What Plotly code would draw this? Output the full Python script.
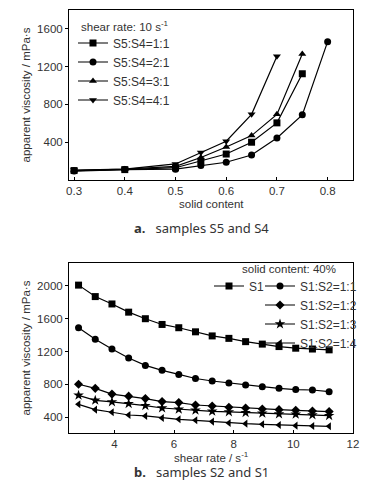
import plotly.graph_objects as go

# ---------------- data: chart a ----------------
solid_content = [0.3, 0.4, 0.5, 0.55, 0.6, 0.65, 0.7, 0.75, 0.8]
visc_11 = [100, 110, 130, 200, 275, 400, 605, 1125]
visc_21 = [95, 110, 115, 153, 188, 265, 445, 690, 1465]
visc_31 = [100, 115, 145, 238, 350, 470, 695, 1335]
visc_41 = [105, 115, 170, 290, 410, 695, 1310]
names_a = ["S5:S4=1:1", "S5:S4=2:1", "S5:S4=3:1", "S5:S4=4:1"]
symbols_a = ["square", "circle", "triangle-up", "triangle-down"]

# ---------------- data: chart b ----------------
shear_rate = [2.8, 3.36, 3.92, 4.48, 5.04, 5.6, 6.16, 6.72, 7.28, 7.84,
              8.4, 8.96, 9.52, 10.08, 10.64, 11.2]
visc_S1 = [2010, 1870, 1780, 1680, 1600, 1530, 1490, 1440, 1390, 1360,
           1320, 1290, 1260, 1240, 1230, 1220]
visc_12_11 = [1490, 1350, 1230, 1120, 1030, 970, 920, 870, 840, 815,
              790, 770, 750, 735, 730, 710]
visc_12_12 = [800, 750, 680, 655, 625, 588, 576, 547, 535, 519,
              511, 498, 490, 482, 474, 466]
visc_12_13 = [665, 604, 584, 563, 539, 510, 494, 482, 470, 462,
              453, 445, 437, 433, 425, 417]
visc_12_14 = [555, 490, 458, 425, 413, 388, 372, 360, 344, 327,
              319, 311, 303, 295, 291, 287]
names_b = ["S1", "S1:S2=1:1", "S1:S2=1:2", "S1:S2=1:3", "S1:S2=1:4"]
symbols_b = ["square", "circle", "diamond", "star", "triangle-left"]

W, H = 367, 491
def py(px):
    return 1 - px / H
def pxx(px):
    return px / W

FONT = "Liberation Sans, Arial"
TXT = "#333333"
f = dict(family=FONT, size=11.5, color=TXT)
fl = dict(family=FONT, size=12, color=TXT)

fig = go.Figure()

series_a = [visc_11, visc_21, visc_31, visc_41]
for name, sym, vals in zip(names_a, symbols_a, series_a):
    fig.add_trace(go.Scatter(
        x=solid_content[:len(vals)], y=vals, name=name, mode="lines+markers",
        line=dict(color="black", width=1.2),
        marker=dict(symbol=sym, size=7, color="black"),
        xaxis="x", yaxis="y", legend="legend"))

series_b = [visc_S1, visc_12_11, visc_12_12, visc_12_13, visc_12_14]
for i, (name, sym, vals) in enumerate(zip(names_b, symbols_b, series_b)):
    fig.add_trace(go.Scatter(
        x=shear_rate, y=vals, name=name, mode="lines+markers",
        line=dict(color="black", width=1.2),
        marker=dict(symbol=sym, size=7 if sym != "star" else 8, color="black"),
        xaxis="x2", yaxis="y2", legend="legend2" if i == 0 else "legend3"))

axis_common = dict(showline=True, linecolor="black", linewidth=1, mirror=True,
                   showgrid=False, zeroline=False, ticks="outside", ticklen=3,
                   tickcolor="black", tickfont=f, automargin=False)
xaxis_common = {**axis_common, "ticks": "inside"}

fig.update_layout(
    width=W, height=H, autosize=False,
    margin=dict(l=0, r=0, t=0, b=0, autoexpand=False),
    paper_bgcolor="white", plot_bgcolor="white",
    font=f,
    xaxis=dict(domain=[pxx(69), pxx(353)], range=[0.29, 0.85],
               tickvals=[0.3, 0.4, 0.5, 0.6, 0.7, 0.8], anchor="y",
               **xaxis_common),
    yaxis=dict(domain=[py(180), py(10)], range=[0, 1800],
               tickvals=[400, 800, 1200, 1600], anchor="x",
               title=dict(text="apparent viscosity / mPa·s", font=f, standoff=4),
               **axis_common),
    xaxis2=dict(domain=[pxx(69), pxx(353)], range=[2.48, 12],
                tickvals=[4, 6, 8, 10, 12], anchor="y2",
                **xaxis_common),
    yaxis2=dict(domain=[py(433), py(263)], range=[205, 2280],
                tickvals=[400, 800, 1200, 1600, 2000], anchor="x2",
                title=dict(text="apparent viscosity / mPa·s", font=f, standoff=4),
                **axis_common),
    legend=dict(x=pxx(73), y=py(28.5), xanchor="left", yanchor="top",
                bgcolor="rgba(0,0,0,0)", itemwidth=30, tracegroupgap=0,
                font=fl),
    legend2=dict(x=pxx(270), y=py(271.5), xanchor="right", yanchor="top",
                 bgcolor="rgba(0,0,0,0)", itemwidth=30, font=fl),
    legend3=dict(x=pxx(362), y=py(271.5), xanchor="right", yanchor="top",
                 bgcolor="rgba(0,0,0,0)", itemwidth=30, tracegroupgap=0,
                 font=fl),
)

annots = [
    dict(text="shear rate: 10 s<sup>-1</sup>", x=pxx(79), y=py(26), xanchor="left"),
    dict(text="solid content", x=pxx(211), y=py(204), xanchor="center"),
    dict(text="shear rate / s<sup>-1</sup>", x=pxx(211), y=py(457), xanchor="center"),
    dict(text="solid content: 40%", x=pxx(240), y=py(269), xanchor="left"),
    dict(text="<b>a.</b>   samples S5 and S4", x=pxx(201), y=py(228), xanchor="center",
         font=dict(family="Noto Sans", size=13, color=TXT)),
    dict(text="<b>b.</b>   samples S2 and S1", x=pxx(201), y=py(472), xanchor="center",
         font=dict(family="Noto Sans", size=13, color=TXT)),
]
for a in annots:
    fig.add_annotation(xref="paper", yref="paper", x=a["x"], y=a["y"],
                       text=a["text"], showarrow=False, xanchor=a["xanchor"],
                       yanchor="middle", font=a.get("font", f))

fig.write_html("out.html",
               config={"displayModeBar": False},
               post_script="document.body.style.margin='0';"
                           "document.body.style.overflow='hidden';")
